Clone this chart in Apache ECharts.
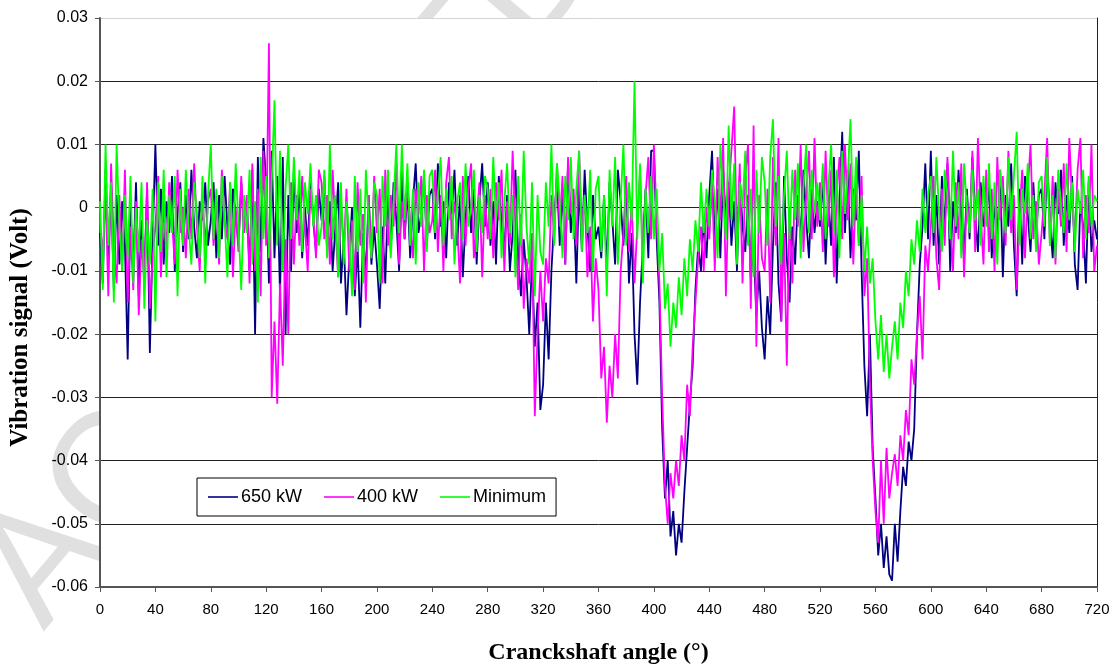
<!DOCTYPE html>
<html>
<head>
<meta charset="utf-8">
<script src="https://cdn.jsdelivr.net/npm/echarts@6/dist/echarts.min.js"></script>
<style>html,body{margin:0;padding:0;background:#fff;}#c{width:1117px;height:668px;}</style>
</head>
<body>
<div id="c"></div>
<script>
// Crankshaft angle sampling (degrees) : 0..720 every 2 degrees
const angleStep = 2;
const angleMax = 720;
// Vibration signal values in millivolts (axis labels show volts)
const kw650 = [
 -4,-12,6,-8,3,-13,2,-9,1,-6,-24,0,-10,4,-14,-2,-11,3,-23,-5,
 10,-6,3,-9,1,-4,5,-10,-1,4,-7,2,-5,6,-3,-8,1,-2,4,-6,
 -2,4,-8,2,-5,5,-3,-9,3,-1,-6,4,-4,1,-10,6,-20,8,-7,11,
 4,-12,9,-8,5,-14,8,-20,2,-10,6,-4,3,-8,0,-6,4,-2,-7,3,
 -2,5,-7,1,-10,-3,4,-12,-5,-17,-8,0,-14,-6,-19,-4,-11,2,-9,-3,
 -9,-16,-3,-12,2,-7,4,-2,-10,6,-5,3,-8,1,7,-4,-1,5,-6,2,
 3,-5,7,-3,1,-8,4,-1,6,-6,2,-11,-2,5,-4,3,-9,1,7,-3,
 4,-6,1,-9,5,-3,-7,2,-10,-4,6,-8,-14,-5,-11,-20,-8,-22,-15,-32,
 -28,-15,-24,-10,-2,5,-6,3,-9,7,-4,1,-12,4,-7,6,-3,-10,2,-5,
 -3,-8,2,-10,4,-2,-9,6,1,-6,3,-12,-4,-20,-28,-15,-6,3,-8,9,
 9,-5,-15,-35,-46,-40,-52,-48,-55,-50,-53,-45,-38,-31,-25,-13,-6,-10,-2,-8,
 2,9,-5,3,-8,6,-2,4,-6,1,-10,5,-3,-7,2,-11,-6,-17,-10,-19,
 -24,-14,-20,-6,4,-12,-18,5,-8,-15,-3,-9,2,-5,6,-2,-8,3,-4,1,
 -3,5,-9,2,-6,8,-12,1,12,-4,6,-8,3,-2,9,-10,-25,-33,-20,-38,
 -46,-55,-50,-57,-52,-58,-59,-50,-56,-48,-41,-44,-37,-40,-35,-20,-9,-3,7,-5,
 9,-6,2,-9,5,-3,7,-10,1,-4,6,-2,-8,3,-5,8,-1,-7,4,-3,
 -2,4,-8,1,-5,6,-11,2,-3,7,-6,-14,3,-9,5,-1,-7,4,-4,2,
 3,-5,7,-2,-8,4,-1,6,-6,2,-4,5,-9,-13,1,-3,-12,4,-7,-2,-5
];
const kw400 = [
 -2,-8,3,-14,7,-6,-12,2,-10,6,-15,-3,-13,1,-17,-5,-12,4,-16,-8,
 -3,5,-11,1,-7,4,-2,-9,6,-4,0,-8,3,-5,7,-3,-10,2,-6,1,
 3,-6,1,-9,6,-2,-5,4,-11,0,-7,5,-4,2,-12,7,-10,3,-14,9,
 -6,26,-30,-18,-31,-12,-25,-5,-20,4,-9,2,-6,5,-3,-10,3,-1,-8,6,
 4,-5,2,-9,6,-3,-11,1,-7,3,-10,-2,-13,4,-6,-1,-15,2,-8,5,
 -4,3,-12,6,-6,2,-3,7,-9,1,-5,4,-2,-8,3,-1,5,-10,2,-4,
 -2,6,-7,2,-10,4,8,-5,1,-3,-12,5,-6,3,7,-8,-2,4,-11,2,
 -5,3,-8,4,-2,6,-10,1,-6,9,-3,-13,-1,-16,-8,-12,-4,-33,-20,-10,
 -18,-8,-12,2,-5,7,-3,5,-9,8,-1,3,-6,9,-4,2,-11,-3,-18,-8,
 -13,-27,-22,-34,-25,-30,-20,-27,-10,-4,5,-7,1,-12,-3,6,-8,2,8,-5,
 10,-2,-12,-30,-44,-50,-42,-46,-40,-44,-36,-40,-28,-33,-22,-15,-8,-3,-10,0,
 -5,4,-10,8,-2,11,-14,3,9,16,-6,7,-12,5,10,-16,13,-22,2,-8,
 -10,3,-15,8,-6,11,-18,-4,-25,0,-12,6,-3,10,-7,2,9,-5,11,-3,
 4,-7,9,-3,6,-11,2,8,-5,10,-2,7,-9,4,-6,5,-14,-8,-28,-40,
 -48,-53,-40,-50,-38,-46,-42,-39,-44,-36,-40,-32,-36,-24,-28,-20,-14,-24,-6,-10,
 -3,5,-8,-13,3,-6,8,-2,-10,4,-5,7,-11,2,-4,9,-7,11,-1,-9,
 6,-7,3,-10,8,-2,5,-6,9,-4,2,-13,-1,6,-8,3,10,-5,1,-9,
 -4,2,11,-6,5,-9,3,-3,7,-7,11,1,-5,6,11,-8,2,-4,10,-10,-6
];
const minimum = [
 1,-13,10,-6,4,-15,10,-3,-10,2,-8,5,-12,0,-7,4,-16,-2,-9,3,
 -18,4,-7,6,-11,2,-4,5,-14,3,-6,6,-3,-9,4,-1,-8,5,-12,2,
 10,-5,3,-8,5,-2,-11,4,-6,7,-3,-13,2,-4,6,-9,1,-15,8,-5,
 5,-8,4,17,-6,9,-10,3,10,-5,8,-2,6,-7,4,-1,7,-3,2,-6,
 -3,6,-8,10,-5,2,-11,4,-9,1,-4,-14,5,-7,3,-12,6,-2,-8,4,
 2,-12,5,-3,6,-8,1,10,-4,10,-2,7,-6,3,-9,4,-3,6,-7,5,
 6,-4,2,8,-6,3,-2,5,-9,1,4,-5,7,-3,0,6,-7,2,-4,5,
 3,-5,8,-2,4,-8,1,7,-4,2,-11,5,-6,9,-3,-9,4,-14,2,-7,
 -9,4,-3,10,-6,7,1,-8,5,-2,8,-5,3,9,-7,2,-4,6,-10,3,
 5,-7,2,-14,6,-3,8,-9,1,10,-6,4,-2,20,-5,7,-12,3,-4,5,
 -5,3,-10,-4,-16,-12,-22,-15,-19,-11,-17,-8,-14,-5,-10,-2,-7,4,-4,3,
 -3,6,1,-8,10,2,-5,13,-2,7,-9,4,0,9,-6,3,-11,6,-4,8,
 4,-6,8,14,-3,5,-9,2,9,-5,6,-2,7,-8,3,10,-4,6,-1,4,
 -2,7,-5,3,10,-4,6,-8,9,-1,5,14,-3,8,-6,2,-10,-3,-12,-8,
 -18,-24,-17,-26,-20,-27,-22,-18,-24,-15,-19,-10,-14,-5,-9,-2,-7,3,-4,2,
 5,-4,8,-1,-7,6,2,-5,9,-3,4,-8,7,0,-4,6,-2,3,-6,5,
 -3,7,-5,4,-9,6,1,-4,8,-2,5,12,-6,3,-1,7,-5,2,-7,4,
 5,-3,8,-6,2,-8,6,0,-4,7,-2,4,-7,3,-1,6,-5,5,-3,2,1
];
const seriesNames = ['650 kW', '400 kW', 'Minimum'];
const seriesColors = ['#000080', '#FF00FF', '#00FF00'];
const yTickValues = [-60, -50, -40, -30, -20, -10, 0, 10, 20, 30];

function pairs(vals) {
  return vals.map((v, i) => [i * angleStep, v]);
}

const chart = echarts.init(document.getElementById('c'), null, {renderer: 'canvas'});
const gridLineColors = yTickValues.map((v, i) => i === yTickValues.length - 1 ? '#d4d4d4' : '#222');
const sans = '"Liberation Sans", Arial, sans-serif';
const serif = '"Liberation Serif", "Times New Roman", serif';

chart.setOption({
  animation: false,
  backgroundColor: '#fff',
  graphic: [{
    type: 'text',
    z: -10,
    x: 71, y: 655,
    rotation: 0.87,
    style: {
      text: 'ACCEPTED MANUSCRIPT',
      font: '160px "Liberation Sans", Arial, sans-serif',
      fill: '#e0e0e0',
      align: 'left',
      verticalAlign: 'bottom'
    }
  }],
  grid: {
    left: 100, right: 20, top: 18, bottom: 81,
    outerBoundsMode: 'none',
    containLabel: false,
    show: true, backgroundColor: '#fff', borderWidth: 0
  },
  legend: {
    left: 197, top: 478,
    orient: 'horizontal',
    padding: [10, 10, 10, 11],
    itemGap: 22,
    itemWidth: 30, itemHeight: 14,
    backgroundColor: '#fff',
    borderColor: '#000', borderWidth: 1, borderRadius: 0,
    textStyle: {fontFamily: sans, fontSize: 18, color: '#000', padding: [0, 0, 0, -2]},
    data: seriesNames.map(n => ({name: n, icon: 'path://M0,6.2 L30,6.2 L30,7.8 L0,7.8 Z'}))
  },
  xAxis: {
    type: 'value', min: 0, max: angleMax, interval: 40,
    name: 'Cranckshaft angle (°)',
    nameLocation: 'middle', nameGap: 54,
    nameTextStyle: {fontFamily: serif, fontWeight: 'bold', fontSize: 24, color: '#000'},
    axisLine: {show: true, onZero: false, lineStyle: {color: '#555', width: 2}},
    axisTick: {show: true, inside: false, length: 5, lineStyle: {color: '#555', width: 1}},
    axisLabel: {margin: 15, fontFamily: sans, fontSize: 15, color: '#000'},
    splitLine: {show: false}
  },
  yAxis: [{
    type: 'value', min: -60, max: 30, interval: 10,
    name: 'Vibration signal (Volt)',
    nameLocation: 'middle', nameGap: 67, nameRotate: 90,
    nameTextStyle: {fontFamily: serif, fontWeight: 'bold', fontSize: 25, color: '#000', padding: [0, 50, 0, 0]},
    axisLine: {show: true, onZero: false, lineStyle: {color: '#555', width: 2}},
    axisTick: {show: true, inside: false, length: 5, lineStyle: {color: '#555', width: 1}},
    axisLabel: {margin: 12, fontFamily: sans, fontSize: 16, color: '#000',
      formatter: v => String(v / 1000)},
    splitLine: {show: true, lineStyle: {color: gridLineColors, width: 1}}
  }, {
    type: 'value', min: -60, max: 30, interval: 10, position: 'right',
    axisLine: {show: true, onZero: false, lineStyle: {color: '#222', width: 1}},
    axisTick: {show: false}, axisLabel: {show: false}, splitLine: {show: false}
  }],
  series: [
    {name: seriesNames[0], type: 'line', data: pairs(kw650), showSymbol: false, symbol: 'none', lineStyle: {color: seriesColors[0], width: 1.8}, itemStyle: {color: seriesColors[0]}, z: 2},
    {name: seriesNames[1], type: 'line', data: pairs(kw400), showSymbol: false, symbol: 'none', lineStyle: {color: seriesColors[1], width: 1.8}, itemStyle: {color: seriesColors[1]}, z: 3},
    {name: seriesNames[2], type: 'line', data: pairs(minimum), showSymbol: false, symbol: 'none', lineStyle: {color: seriesColors[2], width: 1.8}, itemStyle: {color: seriesColors[2]}, z: 4}
  ]
});
</script>
</body>
</html>
